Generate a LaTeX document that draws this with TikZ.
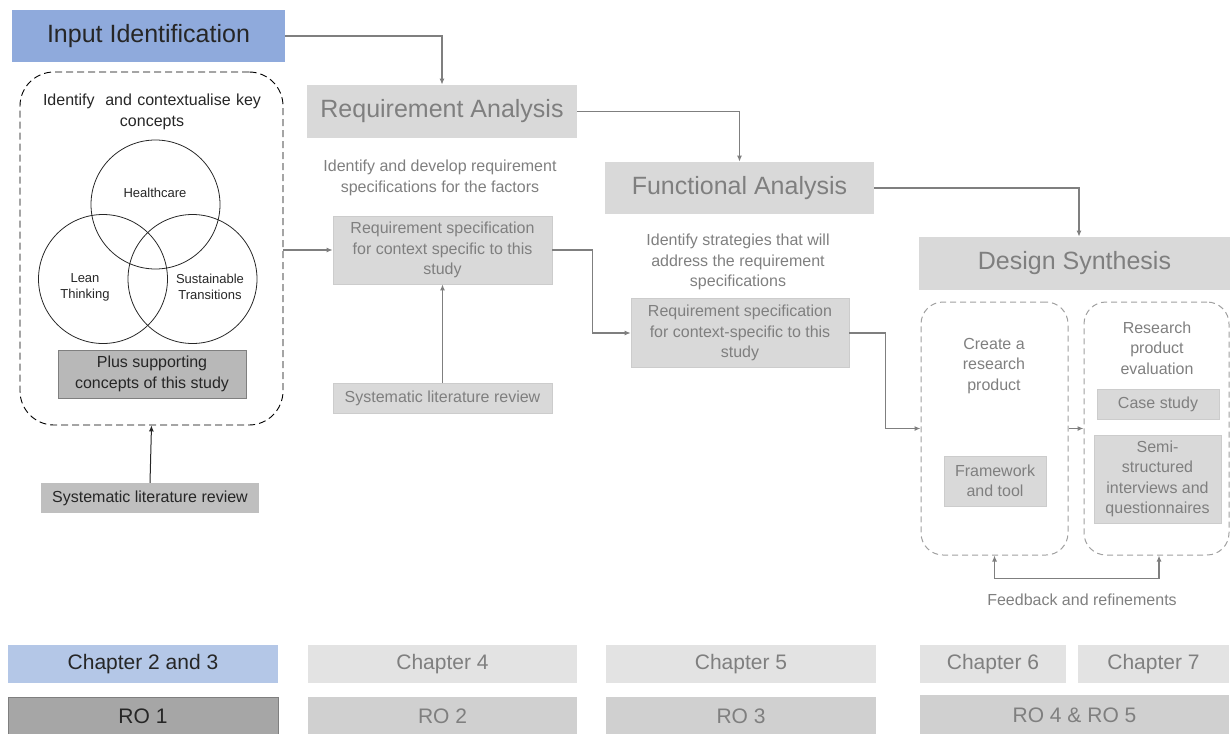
\documentclass[tikz,border=0pt]{standalone}
\usepackage{fontspec}
\setmainfont{Liberation Sans}
\usetikzlibrary{arrows.meta}

\definecolor{inblue}{HTML}{8FAADC}
\definecolor{lightblue}{HTML}{B4C7E7}
\definecolor{darktext}{HTML}{262626}
\definecolor{greytext}{HTML}{7F7F7F}
\definecolor{greyline}{HTML}{7F7F7F}
\definecolor{boxgrey}{HTML}{D9D9D9}
\definecolor{boxgreyedge}{HTML}{CCCCCC}
\definecolor{chapgrey}{HTML}{E3E3E3}
\definecolor{rogrey}{HTML}{D0D0D0}
\definecolor{midgrey}{HTML}{BFBFBF}
\definecolor{plusgrey}{HTML}{B8B8B8}
\definecolor{rodark}{HTML}{A6A6A6}
\definecolor{dashgrey}{HTML}{A0A0A0}

\tikzset{
  tbig/.style={font=\fontsize{25}{29}\selectfont},
  tchap/.style={font=\fontsize{21}{25}\selectfont},
  tmid/.style={font=\fontsize{16}{20.5}\selectfont},
  tsmall/.style={font=\fontsize{13}{16}\selectfont},
  block/.style={rectangle, inner sep=0pt, align=center},
  greyblock/.style={block, fill=boxgrey, draw=boxgreyedge, line width=0.6pt, text=greytext},
  darkblock/.style={block, text=darktext},
  note/.style={inner sep=0pt, align=center},
  greyarrow/.style={draw=greyline, line width=1.2pt, -{Latex[length=6pt,width=5pt]}},
  blackarrow/.style={draw=darktext, line width=1pt, -{Latex[length=6pt,width=5pt]}},
  blackdash/.style={draw=black, line width=0.9pt, dash pattern=on 7pt off 4pt, rounded corners=34pt},
  greydash/.style={draw=dashgrey, line width=1pt, dash pattern=on 6pt off 4pt, rounded corners=22pt},
}

\begin{document}
\begin{tikzpicture}[x=1pt,y=-1pt]
\useasboundingbox (0,0) rectangle (1230,733);

% ---------- Input identification column ----------
\node[darkblock, fill=inblue, minimum width=273pt, minimum height=52pt,
      font=\fontsize{25}{29}\selectfont] (inid) at (148.5,36) {Input Identification};

\node[rectangle, blackdash, minimum width=263pt, minimum height=353pt] (concepts) at (151.5,248.5) {};
\node[note, tmid, text=darktext, text width=230pt] (keytxt) at (152,112)
  {Identify\ \ and\ contextualise\ key\\concepts};

\draw[darktext, line width=0.8pt] (155.5,204.5) circle (64.5);
\draw[darktext, line width=0.8pt] (103,279) circle (64.5);
\draw[darktext, line width=0.8pt] (192.5,279) circle (64.5);
\node[note, tsmall, text=darktext] (hc) at (155,193) {Healthcare};
\node[note, tsmall, text=darktext] (lt) at (85,287) {Lean\\Thinking};
\node[note, tsmall, text=darktext] (st) at (210,287) {Sustainable\\Transitions};

\node[darkblock, tmid, fill=plusgrey, draw=greyline, line width=0.6pt,
      minimum width=188pt, minimum height=48pt] (plus) at (152,374)
  {Plus supporting\\concepts of this study};

\node[darkblock, tmid, fill=midgrey, minimum width=218pt, minimum height=30pt]
  (slrA) at (150,498) {Systematic literature review};

% ---------- Requirement analysis column ----------
\node[greyblock, tbig, draw=none, minimum width=270pt, minimum height=53pt]
  (reqan) at (442,111.5) {Requirement Analysis};
\node[note, tmid, text=greytext] (reqtxt) at (440,178)
  {Identify\ and develop requirement\\specifications for the factors};
\node[greyblock, tmid, minimum width=219pt, minimum height=68pt]
  (spec1) at (442.5,250) {Requirement specification\\for context specific to this\\study};
\node[greyblock, tmid, minimum width=219pt, minimum height=30pt]
  (slrB) at (442.5,398) {Systematic literature review};

% ---------- Functional analysis column ----------
\node[greyblock, tbig, draw=none, minimum width=269pt, minimum height=52pt]
  (funan) at (739.5,188) {Functional Analysis};
\node[note, tmid, text=greytext] (funtxt) at (738,262)
  {Identify\ strategies that will\\address the requirement\\specifications};
\node[greyblock, tmid, minimum width=218pt, minimum height=69pt]
  (spec2) at (740,333) {Requirement specification\\for context-specific to this\\study};

% ---------- Design synthesis column ----------
\node[greyblock, tbig, draw=none, minimum width=311pt, minimum height=53pt]
  (desyn) at (1074.5,263.5) {Design Synthesis};
\node[rectangle, greydash, minimum width=147pt, minimum height=253pt] (create) at (994.5,428.5) {};
\node[rectangle, greydash, minimum width=145pt, minimum height=253pt] (evalbox) at (1156.5,428.5) {};
\node[note, tmid, text=greytext] (createtxt) at (994,366) {Create a\\research\\product};
\node[greyblock, tmid, minimum width=102pt, minimum height=50pt]
  (fwk) at (995,481) {Framework\\and tool};
\node[note, tmid, text=greytext] (evaltxt) at (1157,348) {Research\\product\\evaluation};
\node[greyblock, tmid, minimum width=122pt, minimum height=30pt]
  (cases) at (1158,404) {Case study};
\node[greyblock, tmid, minimum width=127pt, minimum height=88pt]
  (semi) at (1157.5,479) {Semi-\\structured\\interviews and\\questionnaires};
\node[note, tmid, text=greytext] (fbtxt) at (1082,600) {Feedback and refinements};

% ---------- Chapter and research objective rows ----------
\node[darkblock, tchap, fill=lightblue, minimum width=270pt, minimum height=38pt]
  (ch23) at (143,664) {Chapter 2 and 3};
\node[greyblock, tchap, draw=none, fill=chapgrey, minimum width=269pt, minimum height=38pt]
  (ch4) at (442.5,664) {Chapter 4};
\node[greyblock, tchap, draw=none, fill=chapgrey, minimum width=270pt, minimum height=38pt]
  (ch5) at (741,664) {Chapter 5};
\node[greyblock, tchap, draw=none, fill=chapgrey, minimum width=146pt, minimum height=38pt]
  (ch6) at (993,664) {Chapter 6};
\node[greyblock, tchap, draw=none, fill=chapgrey, minimum width=151pt, minimum height=38pt]
  (ch7) at (1153.5,664) {Chapter 7};

\node[darkblock, tchap, fill=rodark, draw=greyline, line width=0.8pt,
      minimum width=270pt, minimum height=38pt] (ro1) at (143,716) {RO 1};
\node[greyblock, tchap, draw=none, fill=rogrey, minimum width=269pt, minimum height=38pt]
  (ro2) at (442.5,716) {RO 2};
\node[greyblock, tchap, draw=none, fill=rogrey, minimum width=270pt, minimum height=38pt]
  (ro3) at (741,716) {RO 3};
\node[greyblock, tchap, draw=none, fill=rogrey, minimum width=309pt, minimum height=40pt]
  (ro45) at (1074.5,715) {RO 4 \& RO 5};

% ---------- Connectors ----------
\draw[greyarrow] (inid.east) -| (reqan.north);
\draw[greyarrow] (reqan.east) -| (funan.north);
\draw[greyarrow] (funan.east) -| ([xshift=4.5pt]desyn.north);

\draw[blackarrow] (slrA.north) -- (concepts.south);
\draw[greyarrow] (spec1.west -| concepts.east) -- (spec1.west);
\draw[greyarrow] (slrB.north) -- (spec1.south);

\draw[greyarrow] (spec1.east) -- ++(40,0) |- (spec2.west);
\draw[greyarrow] (spec2.east) -- ++(36,0) |- (create.west);
\draw[greyarrow] (create.east) -- (evalbox.west);
\draw[greyline, line width=1.2pt, {Latex[length=6pt,width=5pt]}-{Latex[length=6pt,width=5pt]}]
  (create.south) -- ++(0,23) -| ([xshift=2.5pt]evalbox.south);
\end{tikzpicture}
\end{document}
